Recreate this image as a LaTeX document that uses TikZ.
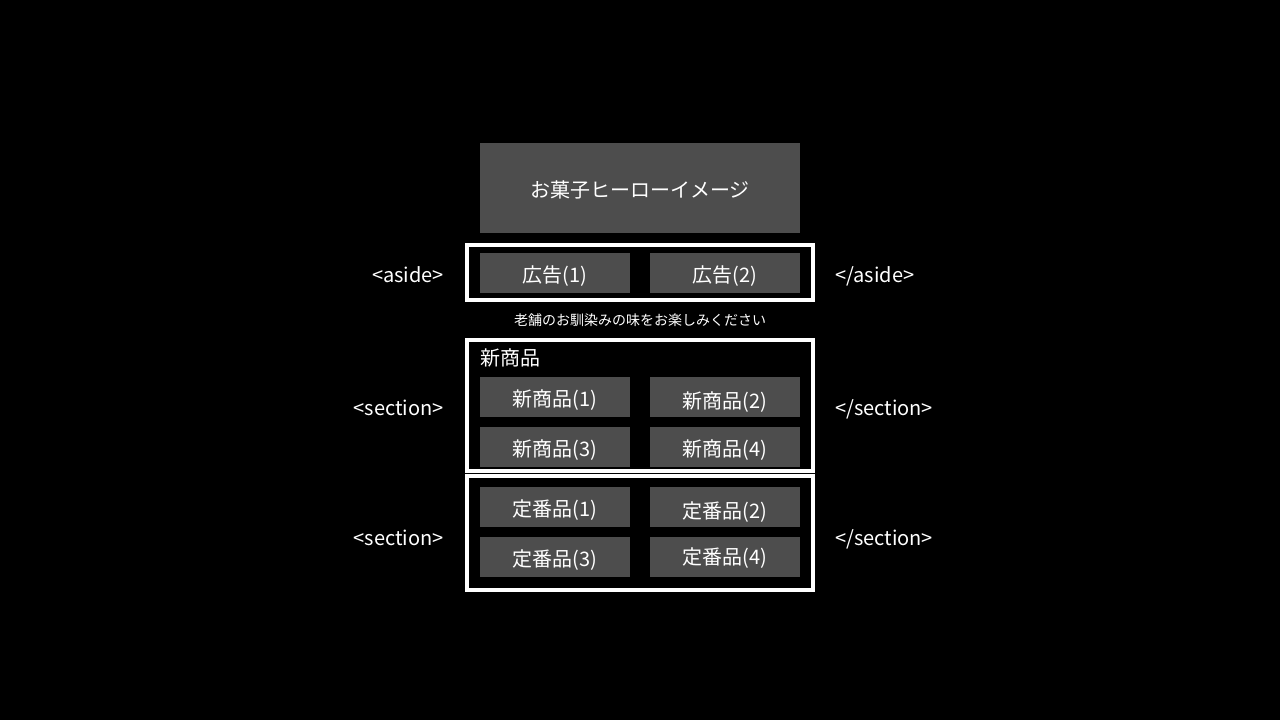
\documentclass[tikz,border=0pt]{standalone}
\usepackage{fontspec}
\setmainfont{Noto Sans CJK JP}
\usepackage{tikz}
\definecolor{boxgray}{RGB}{77,77,77}
\tikzstyle{card} = [fill=boxgray, text=white, minimum width=150pt, minimum height=40pt, inner sep=0pt, text height=19pt, text depth=0pt, font={\fontsize{20}{24}\selectfont}]
\tikzstyle{hero} = [card, minimum width=320pt, minimum height=90pt]
\tikzstyle{frame} = [draw=white, line width=4pt, inner sep=0pt]
\tikzstyle{tag} = [text=white, inner sep=0pt, text height=19pt, text depth=0pt, font={\fontsize{20}{24}\selectfont}]

\begin{document}
\begin{tikzpicture}[x=1pt,y=-1pt]
    \fill[black] (0,0) rectangle (1280,720);
    \useasboundingbox (0,0) rectangle (1280,720);
    \node[hero](hero) at (640,188){お菓子ヒーローイメージ};
    % aside
    \node[frame, minimum width=346pt, minimum height=55pt](aside) at (640,272.5){};
    \node[card](ad1) at (555,273){広告(1)};
    \node[card](ad2) at (725,273){広告(2)};
    \node[tag, anchor=east](asidel) at (444,273){<aside>};
    \node[tag, anchor=west](asider) at (835,273){</aside>};
    \node[text=white, font={\fontsize{14}{16}\selectfont}](lead) at (640,320){老舗のお馴染みの味をお楽しみください};
    % new items
    \node[frame, minimum width=346pt, minimum height=131pt](sec1) at (640,405.5){};
    \node[tag, anchor=west](sec1title) at (480,356){新商品};
    \node[card](new1) at (555,397){新商品(1)};
    \node[card, text height=23pt](new2) at (725,397){新商品(2)};
    \node[card](new3) at (555,447){新商品(3)};
    \node[card](new4) at (725,447){新商品(4)};
    \node[tag, anchor=east](sec1l) at (444,406){<section>};
    \node[tag, anchor=west](sec1r) at (835,406){</section>};
    % standard items
    \node[frame, minimum width=346pt, minimum height=114pt](sec2) at (640,533){};
    \node[card](std1) at (555,507){定番品(1)};
    \node[card, text height=23pt](std2) at (725,507){定番品(2)};
    \node[card](std3) at (555,557){定番品(3)};
    \node[card, text height=15pt](std4) at (725,557){定番品(4)};
    \node[tag, anchor=east](sec2l) at (444,536){<section>};
    \node[tag, anchor=west](sec2r) at (835,536){</section>};
\end{tikzpicture}
\end{document}
